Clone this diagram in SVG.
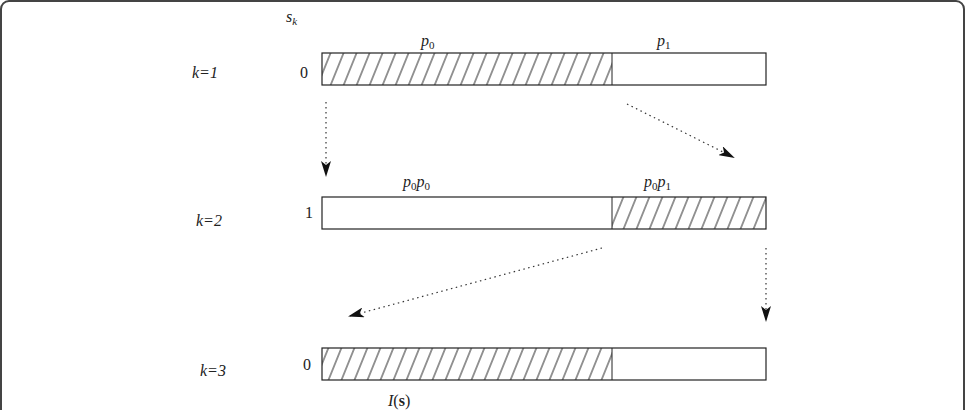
<svg xmlns="http://www.w3.org/2000/svg" width="965" height="410" viewBox="0 0 965 410">
<style>
text{font-family:"Liberation Serif","Times New Roman",serif;font-size:16px;fill:#222}
.i{font-style:italic}
.b{fill:none;stroke:#222;stroke-width:1.2}
.c{stroke:#333;stroke-width:1.2;stroke-dasharray:1.5 3.5;fill:none;marker-end:url(#ah)}
</style>
<defs>
<pattern id="h" patternUnits="userSpaceOnUse" width="13" height="32" patternTransform="skewX(-22)">
<rect width="13" height="32" fill="#fff"/>
<line x1="1" y1="0" x2="1" y2="32" stroke="#222" stroke-width="1"/>
</pattern>
<marker id="ah" markerWidth="16" markerHeight="10" refX="14" refY="5" orient="auto" markerUnits="userSpaceOnUse">
<path d="M0,0 L16,5 L0,10 L4,5 Z" fill="#111"/>
</marker>
</defs>
<rect x="1" y="1" width="963" height="420" rx="8" fill="#fff" stroke="#444" stroke-width="2"/>
<g id="row1">
<rect x="322" y="53" width="290" height="32" fill="url(#h)"/>
<rect x="322" y="53" width="444" height="32" class="b"/>
<line x1="612" y1="53" x2="612" y2="85" stroke="#222"/>
<text class="i" x="192" y="78">k=1</text>
<text x="300" y="78">0</text>
<text class="i" x="421" y="46">p<tspan font-size="11" dy="3" font-style="normal">0</tspan></text>
<text class="i" x="657" y="46">p<tspan font-size="11" dy="3" font-style="normal">1</tspan></text>
</g>
<g id="row2">
<rect x="612" y="197" width="154" height="32" fill="url(#h)"/>
<rect x="322" y="197" width="444" height="32" class="b"/>
<line x1="612" y1="197" x2="612" y2="229" stroke="#222"/>
<text class="i" x="196" y="226">k=2</text>
<text x="305" y="218">1</text>
<text class="i" x="403" y="187">p<tspan font-size="11" dy="3" font-style="normal">0</tspan><tspan dy="-3">p</tspan><tspan font-size="11" dy="3" font-style="normal">0</tspan></text>
<text class="i" x="644" y="187">p<tspan font-size="11" dy="3" font-style="normal">0</tspan><tspan dy="-3">p</tspan><tspan font-size="11" dy="3" font-style="normal">1</tspan></text>
</g>
<g id="row3">
<rect x="322" y="348" width="290" height="32" fill="url(#h)"/>
<rect x="322" y="348" width="444" height="32" class="b"/>
<line x1="612" y1="348" x2="612" y2="380" stroke="#222"/>
<text class="i" x="200" y="376">k=3</text>
<text x="303" y="370">0</text>
<text x="388" y="406"><tspan font-style="italic">I</tspan>(<tspan font-weight="bold">s</tspan>)</text>
</g>
<g id="labels">
<text class="i" x="286" y="22">s<tspan font-size="11" dy="3">k</tspan></text>
</g>
<g id="connectors">
<path class="c" d="M326,102 L326,175"/>
<path class="c" d="M627,104 L733,157"/>
<path class="c" d="M602,248 L350,316"/>
<path class="c" d="M766,248 L766,320"/>
</g>
</svg>
